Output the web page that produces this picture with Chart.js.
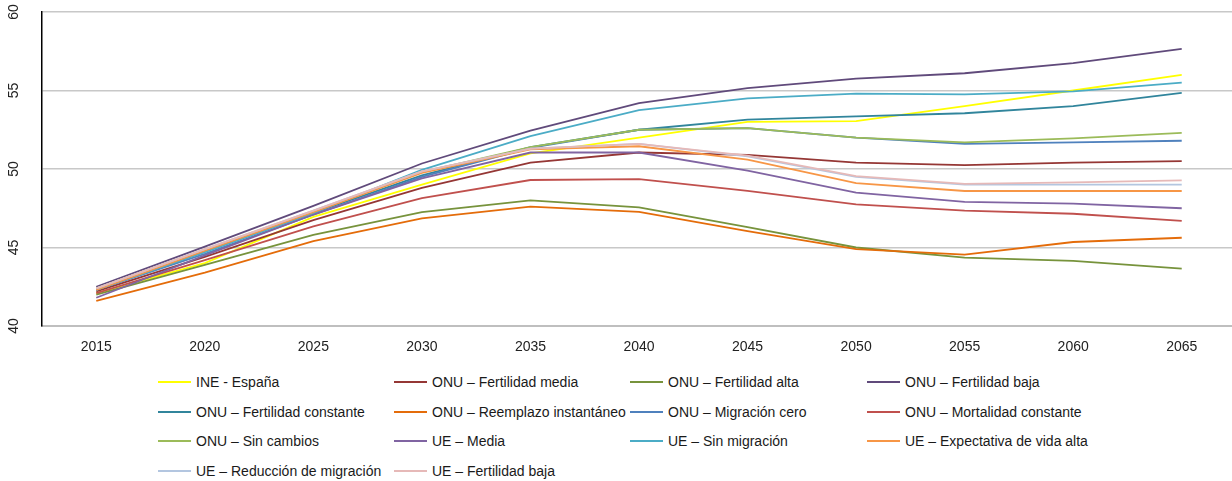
<!DOCTYPE html>
<html lang="es">
<head>
<meta charset="utf-8">
<title>Edad media proyectada</title>
<script src="https://cdn.jsdelivr.net/npm/chart.js@4.4.1/dist/chart.umd.min.js"></script>
<style>
  html, body { margin: 0; padding: 0; background: #fff; overflow: hidden; }
  #wrap { position: relative; width: 1232px; height: 481px; overflow: hidden; }
  #chart { position: absolute; left: 0; top: 0; }
  #legend {
    position: absolute; left: 158px; top: 370px;
    display: grid; grid-template-columns: 236px 236px 237px 236px;
    grid-auto-rows: 29.7px;
    font: 14px "Liberation Sans", Arial, sans-serif; color: #1a1a1a;
  }
  .item { display: flex; align-items: center; white-space: nowrap; height: 24px; }
  .item i { display: inline-block; width: 33px; height: 2px; margin-right: 5px; }
</style>
</head>
<body>
<div id="wrap">
  <canvas id="chart" width="1236" height="362"></canvas>
  <div id="legend"></div>
</div>
<script>
// categorías (años)
const years = ['2015', '2020', '2025', '2030', '2035', '2040', '2045', '2050', '2055', '2060', '2065'];

// series
const ineEspana     = [42.1, 44.0, 46.95, 49.0, 51.0, 52.0, 53.0, 53.05, 54.0, 55.0, 56.0];
const onuFertMedia  = [42.2, 44.4, 46.75, 48.8, 50.4, 51.05, 50.9, 50.4, 50.25, 50.4, 50.5];
const onuFertAlta   = [42.0, 43.9, 45.8, 47.25, 48.0, 47.55, 46.3, 45.0, 44.35, 44.15, 43.65];
const onuFertBaja   = [42.5, 45.05, 47.65, 50.35, 52.45, 54.2, 55.15, 55.75, 56.1, 56.75, 57.65];
const onuFertConst  = [42.3, 44.75, 47.2, 49.6, 51.4, 52.5, 53.15, 53.35, 53.55, 54.0, 54.85];
const onuReemplazo  = [41.6, 43.4, 45.4, 46.85, 47.6, 47.27, 46.05, 44.9, 44.55, 45.35, 45.62];
const onuMigCero    = [42.3, 44.6, 47.1, 49.5, 51.35, 52.5, 52.6, 52.0, 51.6, 51.7, 51.8];
const onuMortConst  = [42.1, 44.2, 46.35, 48.15, 49.3, 49.35, 48.6, 47.75, 47.35, 47.15, 46.7];
const onuSinCambios = [42.4, 44.85, 47.3, 49.8, 51.4, 52.5, 52.6, 52.0, 51.7, 51.95, 52.3];
const ueMedia       = [41.8, 44.5, 47.1, 49.4, 51.05, 51.05, 49.9, 48.5, 47.9, 47.8, 47.5];
const ueSinMig      = [42.3, 44.7, 47.2, 49.95, 52.1, 53.75, 54.5, 54.8, 54.75, 54.95, 55.5];
const ueExpVida     = [42.3, 44.8, 47.25, 49.75, 51.25, 51.45, 50.6, 49.1, 48.6, 48.6, 48.6];
const ueRedMig      = [42.4, 44.9, 47.35, 49.85, 51.3, 51.6, 50.8, 49.5, 49.0, 49.0, 49.0];
const ueFertBaja    = [42.4, 44.9, 47.35, 49.85, 51.3, 51.6, 50.85, 49.55, 49.05, 49.15, 49.28];

const seriesNames = [
  'INE - España', 'ONU – Fertilidad media', 'ONU – Fertilidad alta', 'ONU – Fertilidad baja',
  'ONU – Fertilidad constante', 'ONU – Reemplazo instantáneo', 'ONU – Migración cero', 'ONU – Mortalidad constante',
  'ONU – Sin cambios', 'UE – Media', 'UE – Sin migración', 'UE – Expectativa de vida alta',
  'UE – Reducción de migración', 'UE – Fertilidad baja'
];
const seriesData = [
  ineEspana, onuFertMedia, onuFertAlta, onuFertBaja,
  onuFertConst, onuReemplazo, onuMigCero, onuMortConst,
  onuSinCambios, ueMedia, ueSinMig, ueExpVida,
  ueRedMig, ueFertBaja
];
const seriesColors = [
  '#FFFF00', '#953735', '#77933C', '#604A7B',
  '#31859C', '#E46C0A', '#4F81BD', '#C0504D',
  '#9BBB59', '#8064A2', '#4BACC6', '#F79646',
  '#B3C6E0', '#E6B9B8'
];

const yTicks = [40, 45, 50, 55, 60];

const FONT = { family: '"Liberation Sans", Arial, sans-serif', size: 14 };

const datasets = seriesNames.map((name, i) => ({
  label: name,
  data: seriesData[i],
  borderColor: seriesColors[i],
  backgroundColor: seriesColors[i],
  borderWidth: 1.8,
  pointRadius: 0,
  tension: 0,
  order: -i // como Excel: la última serie queda encima
}));

new Chart(document.getElementById('chart'), {
  type: 'line',
  data: { labels: years, datasets },
  options: {
    responsive: false,
    animation: false,
    layout: { padding: { top: 12, left: 0, right: 0, bottom: 0 } },
    plugins: { legend: { display: false }, tooltip: { enabled: false } },
    scales: {
      x: {
        offset: true,
        grid: { display: false, drawTicks: false },
        border: { color: '#BFBFBF', width: 2 },
        ticks: { font: FONT, color: '#222', padding: 13, maxRotation: 0 },
        afterFit: s => { s.height = 36; }
      },
      y: {
        min: yTicks[0],
        max: yTicks[yTicks.length - 1],
        afterBuildTicks: s => { s.ticks = yTicks.map(v => ({ value: v })); },
        grid: { color: '#C8C8C8', lineWidth: 1.5, drawTicks: false },
        border: { color: '#000', width: 1.5 },
        ticks: { font: FONT, color: '#222', minRotation: 90, maxRotation: 90, crossAlign: 'center', padding: 20 },
        // el eje ocupa 42px y no reserva margen extra arriba/abajo
        afterFit: s => { s.width = 42; s.paddingTop = 0; s.paddingBottom = 0; }
      }
    }
  }
});

// leyenda en 4 columnas
const legend = document.getElementById('legend');
seriesNames.forEach((name, i) => {
  const el = document.createElement('div');
  el.className = 'item';
  el.innerHTML = '<i style="background:' + seriesColors[i] + '"></i><span></span>';
  el.querySelector('span').textContent = name;
  legend.appendChild(el);
});
</script>
</body>
</html>
